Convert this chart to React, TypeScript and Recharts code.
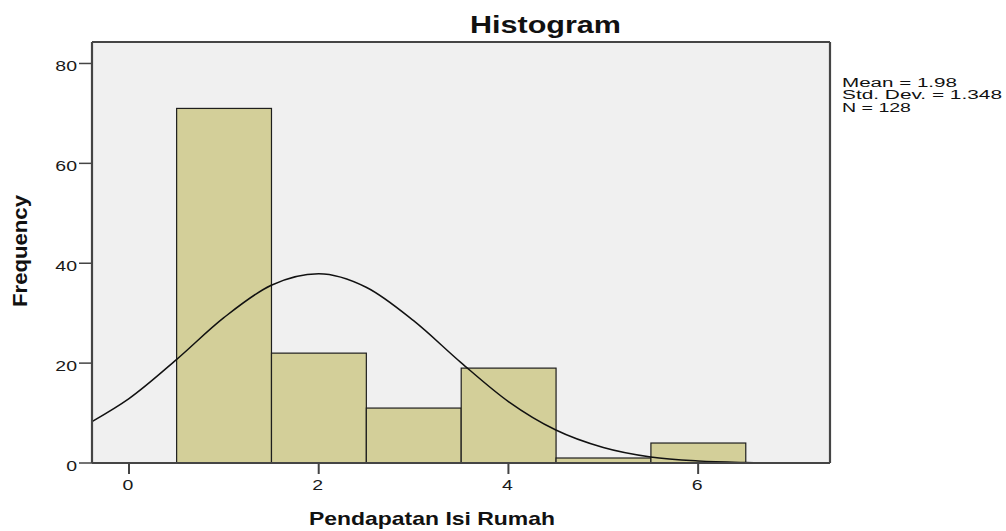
import React from "react";
import { ComposedChart, Bar, Line, XAxis, YAxis, CartesianGrid } from "recharts";

// histogram bins (bin width 1)
const binCenters = [1, 2, 3, 4, 5, 6];
const binCounts = [71, 22, 11, 19, 1, 4];

// normal curve
const curveX = [-0.39, 0, 0.5, 1, 1.5, 2, 2.5, 3, 3.5, 4, 4.5, 5, 5.5, 6, 6.5, 7];
const curveY = [8.3, 12.9, 20.7, 29.1, 35.6, 37.9, 35.2, 28.5, 20.1, 12.3, 6.6, 3.1, 1.2, 0.4, 0.1, 0];

const xTicks = [0, 2, 4, 6];
const yTicks = [0, 20, 40, 60, 80];

const statLines = ["Mean = 1.98", "Std. Dev. = 1.348", "N = 128"];

const X_DOMAIN: [number, number] = [-0.39, 7.39];
const Y_DOMAIN: [number, number] = [0, 84.3];

const W = 1006;
const H = 531;
const MARGIN = { top: 41, right: 175, bottom: 67, left: 91 };
const PLOT_W = 830 - 92;
const BAR_W = PLOT_W / (X_DOMAIN[1] - X_DOMAIN[0]);

const FONT = "'Liberation Sans', Arial, sans-serif";
const BORDER = "#454545";

const barData = binCenters.map((x, i) => ({ x, count: binCounts[i] }));
const curveData = curveX.map((x, i) => ({ x, density: curveY[i] }));

// bar centred on its bin, full bin width
const BinRect = (props: any) => {
  const { x, y, width, height } = props;
  const cx = x + width / 2;
  return (
    <rect
      x={cx - BAR_W / 2}
      y={y}
      width={BAR_W}
      height={height}
      fill="#d3cf99"
      stroke="#1e1e1e"
      strokeWidth={1.2}
    />
  );
};

const YTick = ({ x, y, payload }: any) => (
  <text
    transform={`translate(${x},${y + 8}) scale(1.3,1)`}
    textAnchor="end"
    fontSize={15}
    fontFamily={FONT}
    fill="#1a1a1a"
  >
    {payload.value}
  </text>
);

const XTick = ({ x, y, payload }: any) => (
  <text
    transform={`translate(${x - 1},${y + 14}) scale(1.3,1)`}
    textAnchor="middle"
    fontSize={15}
    fontFamily={FONT}
    fill="#1a1a1a"
  >
    {payload.value}
  </text>
);

export default function App() {
  return (
    <div style={{ position: "absolute", left: 0, top: 0, width: W, height: H, background: "#fff" }}>
      <ComposedChart width={W} height={H} data={barData} margin={MARGIN}>
        <CartesianGrid horizontal={false} vertical={false} fill="#f0f0f0" />
        <XAxis
          dataKey="x"
          type="number"
          domain={X_DOMAIN}
          allowDataOverflow
          ticks={xTicks}
          height={1}
          tickSize={11}
          tick={<XTick />}
          axisLine={{ stroke: BORDER, strokeWidth: 2.2 }}
          tickLine={{ stroke: "#444", strokeWidth: 2 }}
        />
        <XAxis
          xAxisId="top"
          orientation="top"
          type="number"
          domain={X_DOMAIN}
          allowDataOverflow
          height={1}
          tick={false}
          tickLine={false}
          axisLine={{ stroke: BORDER, strokeWidth: 2.2 }}
        />
        <YAxis
          type="number"
          domain={Y_DOMAIN}
          allowDataOverflow
          ticks={yTicks}
          width={1}
          tickSize={13}
          tick={<YTick />}
          axisLine={{ stroke: BORDER, strokeWidth: 2.2 }}
          tickLine={{ stroke: "#444", strokeWidth: 1.5 }}
        />
        <YAxis
          yAxisId="right"
          orientation="right"
          type="number"
          domain={Y_DOMAIN}
          allowDataOverflow
          width={1}
          tick={false}
          tickLine={false}
          axisLine={{ stroke: BORDER, strokeWidth: 2.2 }}
        />
        <Bar dataKey="count" shape={<BinRect />} isAnimationActive={false} />
        <Line
          data={curveData}
          dataKey="density"
          type="monotone"
          stroke="#111"
          strokeWidth={1.5}
          dot={false}
          activeDot={false}
          isAnimationActive={false}
        />
      </ComposedChart>
      <svg
        width={W}
        height={H}
        style={{ position: "absolute", left: 0, top: 0, pointerEvents: "none" }}
        fontFamily={FONT}
      >
        <text x={470} y={33} fontSize={23} fontWeight="bold" textLength={151} lengthAdjust="spacingAndGlyphs" fill="#111">
          Histogram
        </text>
        <text x={309} y={525} fontSize={19} fontWeight="bold" textLength={246} lengthAdjust="spacingAndGlyphs" fill="#111">
          Pendapatan Isi Rumah
        </text>
        <text
          transform="translate(27,307) rotate(-90)"
          fontSize={20}
          fontWeight="bold"
          textLength={112}
          lengthAdjust="spacingAndGlyphs"
          fill="#111"
        >
          Frequency
        </text>
        {statLines.map((s, i) => (
          <text
            key={s}
            x={842}
            y={86.5 + i * 12.5}
            fontSize={12}
            textLength={[115, 160, 69][i]}
            lengthAdjust="spacingAndGlyphs"
            fill="#111"
          >
            {s}
          </text>
        ))}
      </svg>
    </div>
  );
}
